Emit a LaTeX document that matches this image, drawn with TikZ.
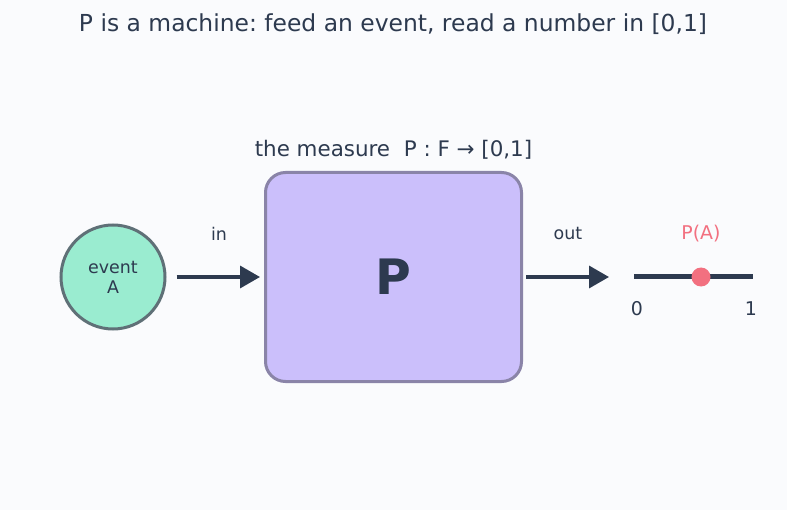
\documentclass[tikz,border=0pt]{standalone}
\usepackage{fontspec}
\setmainfont{DejaVu Sans}
\frenchspacing
\usetikzlibrary{
  positioning,
  arrows.meta,
  calc
}
\definecolor{pagebg}{RGB}{250,251,253}
\definecolor{ink}{RGB}{45,58,79}
\definecolor{eventfill}{RGB}{154,236,208}
\definecolor{eventborder}{RGB}{95,112,119}
\definecolor{machinefill}{RGB}{203,191,251}
\definecolor{machineborder}{RGB}{138,132,168}
\definecolor{valuepink}{RGB}{242,112,128}

\begin{document}
\begin{tikzpicture}[
  x=1bp, y=-1bp,
  >=Stealth,
  eventnode/.style={
    circle,
    draw=eventborder,
    fill=eventfill,
    line width=3bp,
    minimum size=104bp,
    inner sep=0pt,
    align=center,
    font=\fontsize{17.5}{20}\selectfont,
    text=ink
  },
  machine/.style={
    rectangle,
    rounded corners=20bp,
    draw=machineborder,
    fill=machinefill,
    line width=3bp,
    minimum width=256bp,
    minimum height=209bp,
    font=\fontsize{49}{52}\selectfont\bfseries,
    text=ink
  },
  caption/.style={
    font=\fontsize{21.5}{25}\selectfont,
    text=ink
  },
  small/.style={
    font=\fontsize{17.5}{20}\selectfont,
    text=ink
  },
  tick/.style={
    font=\fontsize{19}{22}\selectfont,
    text=ink
  },
  flow/.style={
    -{Triangle[length=20bp,width=22bp]},
    line width=3.5bp,
    ink
  }
]

% ------------------------------------------------------------------
% Canvas
% ------------------------------------------------------------------
\fill[pagebg] (0,0) rectangle (787,510);
\useasboundingbox (0,0) rectangle (787,510);

\node[caption, font=\fontsize{23.5}{27}\selectfont] (title) at (393,24)
  {P is a machine: feed an event, read a number in [0,1]};

% ------------------------------------------------------------------
% Event -> machine
% ------------------------------------------------------------------
\node[eventnode] (event) at (113,277) {event\\A};
\node[machine] (measure) at (393.5,277) {P};
\node[caption, above=8bp of measure] (measurelabel)
  {the measure\ \ P : F → [0,1]};

\draw[flow, shorten <=10bp, shorten >=4bp] (event) -- (measure);
\node[small] (inlabel) at (219,234) {in};

% ------------------------------------------------------------------
% Machine -> number line
% ------------------------------------------------------------------
\coordinate (outtip) at (609,277);
\draw[flow, shorten <=3bp] (measure) -- (outtip);
\node[small] (outlabel) at (568,234) {out};

\coordinate (zero) at (634,277);
\coordinate (one) at (753,277);
\draw[ink, line width=5bp] (zero) -- (one);
\node[circle, fill=valuepink, minimum size=19bp, inner sep=0pt]
  (value) at (701,277) {};
\node[tick, text=valuepink] (valuelabel) at (701,234) {P(A)};
\node[tick] (zerolabel) at (637,309) {0};
\node[tick] (onelabel) at (751,309) {1};

\end{tikzpicture}
\end{document}
